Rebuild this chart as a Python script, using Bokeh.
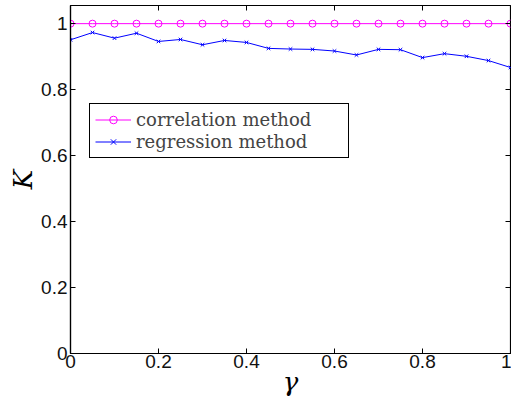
from bokeh.plotting import figure
from bokeh.models import Legend, LegendItem, LinearAxis, FixedTicker, NumeralTickFormatter, Range1d
from bokeh.embed import file_html
from bokeh.resources import INLINE

# gamma sweep and the K values of the two estimation methods
gamma = [0.0, 0.05, 0.10, 0.15, 0.20, 0.25, 0.30, 0.35, 0.40, 0.45, 0.50,
         0.55, 0.60, 0.65, 0.70, 0.75, 0.80, 0.85, 0.90, 0.95, 1.0]
k_correlation = [1.0] * 21
k_regression = [0.951, 0.973, 0.956, 0.971, 0.946, 0.952, 0.936, 0.949, 0.943, 0.925, 0.923,
                0.922, 0.917, 0.905, 0.922, 0.921, 0.897, 0.909, 0.901, 0.888, 0.867]

x_ticks = [0, 0.2, 0.4, 0.6, 0.8, 1.0]
y_ticks = [0, 0.2, 0.4, 0.6, 0.8, 1.0]

TICK_FONT = "Liberation Sans"
SERIF = "DejaVu Serif"

p = figure(width=511, height=404, output_backend="svg", toolbar_location=None,
           x_range=Range1d(0, 1), y_range=Range1d(0, 1.055),
           min_border_left=70, min_border_right=1, min_border_top=5, min_border_bottom=51)
p.xgrid.visible = False
p.ygrid.visible = False
p.outline_line_color = "black"
p.outline_line_width = 1.2
p.background_fill_color = "white"
p.border_fill_color = "white"

for ax, ticks in ((p.xaxis[0], x_ticks), (p.yaxis[0], y_ticks)):
    ax.ticker = FixedTicker(ticks=ticks)
    ax.formatter = NumeralTickFormatter(format="0.[0]")
    ax.major_tick_in = 5
    ax.major_tick_out = 0
    ax.minor_tick_line_color = None
    ax.axis_line_color = "black"
    ax.axis_line_width = 1.2
    ax.major_tick_line_color = "black"
    ax.major_label_text_font = TICK_FONT
    ax.major_label_text_font_size = "19px"
    ax.major_label_text_color = "#111111"
    ax.axis_label_text_font = SERIF
    ax.axis_label_text_font_style = "italic"
    ax.axis_label_text_font_size = "26px"
    ax.axis_label_text_color = "black"

p.xaxis[0].axis_label = "γ"
p.xaxis[0].major_label_standoff = 1
p.xaxis[0].axis_label_standoff = -4
p.yaxis[0].axis_label = "K"
p.yaxis[0].major_label_standoff = 3
p.yaxis[0].axis_label_standoff = 0

# mirrored ticks on the top and right edges of the box
for side, ticks in (("above", x_ticks), ("right", y_ticks)):
    ax = LinearAxis(ticker=FixedTicker(ticks=ticks))
    ax.major_tick_in = 5
    ax.major_tick_out = 0
    ax.minor_tick_line_color = None
    ax.axis_line_color = None
    ax.major_label_overrides = {t: "" for t in ticks}
    ax.major_label_text_font_size = "1px"
    ax.major_label_standoff = 0
    p.add_layout(ax, side)

r_corr_line = p.line(gamma, k_correlation, line_color="#ff00ff", line_width=1)
r_corr_mark = p.scatter(gamma, k_correlation, marker="circle", size=7, fill_color=None,
                        line_color="#ff00ff", line_width=1)
r_reg_line = p.line(gamma, k_regression, line_color="#0000ff", line_width=1)
r_reg_mark = p.scatter(gamma, k_regression, marker="x", size=5,
                       line_color="#0000ff", line_width=1)

legend = Legend(items=[
    LegendItem(label="correlation method", renderers=[r_corr_line, r_corr_mark]),
    LegendItem(label="regression method", renderers=[r_reg_line, r_reg_mark]),
], location=(19, 195))
legend.label_text_font = SERIF
legend.label_text_font_size = "18px"
legend.label_height = 19
legend.label_width = 207
legend.glyph_width = 36
legend.glyph_height = 19
legend.spacing = 1
legend.padding = 5
legend.margin = 0
legend.label_standoff = 5
legend.border_line_color = "black"
legend.border_line_alpha = 1.0
legend.border_line_width = 1.2
legend.background_fill_color = "white"
legend.background_fill_alpha = 1
p.add_layout(legend, "center")

open("out.html", "w").write(file_html(p, INLINE))
